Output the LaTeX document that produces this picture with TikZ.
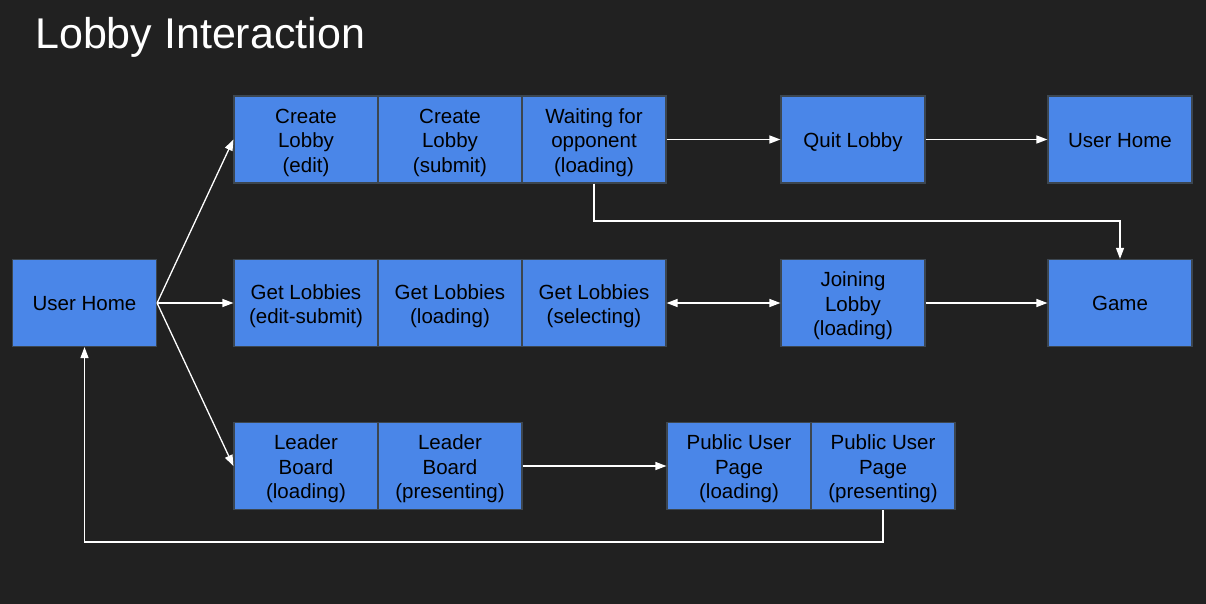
\documentclass[tikz,border=0pt]{standalone}
\usepackage{fontspec}
\setmainfont{Liberation Sans}
\usetikzlibrary{arrows.meta}
\definecolor{bg}{HTML}{212121}
\definecolor{boxfill}{HTML}{4A86E8}
\definecolor{boxline}{HTML}{3C4650}
\newcommand\boxtxt[2][3.5pt]{\raisebox{-#1}[\height][\depth]{\begin{tabular}{@{}c@{}}#2\end{tabular}}}
\tikzset{
  stbox/.style={rectangle, fill=boxfill, draw=boxline, line width=1.2pt,
    minimum width=144pt, minimum height=87pt, inner sep=0pt,
    font=\fontsize{20.5}{24.5}\selectfont, text=black},
  conn/.style={draw=white, line width=1.3pt, -{Triangle[length=11pt,width=8pt]}},
  conn2/.style={draw=white, line width=1.3pt, {Triangle[length=11pt,width=8pt]}-{Triangle[length=11pt,width=8pt]}}
}
\begin{document}
\begin{tikzpicture}[x=1pt,y=-1pt]
\fill[bg] (0,0) rectangle (1206,604);
\useasboundingbox (0,0) rectangle (1206,604);
\node[anchor=base west, text=white, font=\fontsize{43}{50}\selectfont, inner sep=0pt] (title) at (35,49) {Lobby Interaction};
% row 1
\node[stbox] (cle) at (306,139.5) {\boxtxt{Create\\Lobby\\(edit)}};
\node[stbox] (cls) at (450,139.5) {\boxtxt{Create\\Lobby\\(submit)}};
\node[stbox] (wait) at (594,139.5) {\boxtxt{Waiting for\\opponent\\(loading)}};
\node[stbox] (quit) at (853,139.5) {\boxtxt[3pt]{Quit Lobby}};
\node[stbox] (uh2) at (1120,139.5) {\boxtxt[3pt]{User Home}};
% row 2
\node[stbox] (uh) at (84.5,303) {\boxtxt[2.5pt]{User Home}};
\node[stbox] (gle) at (306,303) {\boxtxt{Get Lobbies\\(edit-submit)}};
\node[stbox] (gll) at (450,303) {\boxtxt{Get Lobbies\\(loading)}};
\node[stbox] (gls) at (594,303) {\boxtxt{Get Lobbies\\(selecting)}};
\node[stbox] (join) at (853,303) {\boxtxt{Joining\\Lobby\\(loading)}};
\node[stbox] (game) at (1120,303) {\boxtxt[2.5pt]{Game}};
% row 3
\node[stbox] (lbl) at (306,466) {\boxtxt{Leader\\Board\\(loading)}};
\node[stbox] (lbp) at (450,466) {\boxtxt{Leader\\Board\\(presenting)}};
\node[stbox] (pul) at (739,466) {\boxtxt{Public User\\Page\\(loading)}};
\node[stbox] (pup) at (883,466) {\boxtxt{Public User\\Page\\(presenting)}};
% connectors
\draw[conn] (uh.east) -- (cle.west);
\draw[conn] (uh.east) -- (gle.west);
\draw[conn] (uh.east) -- (lbl.west);
\draw[conn] (wait.east) -- (quit.west);
\draw[conn] (quit.east) -- (uh2.west);
\coordinate (c1) at (594,221);
\draw[conn] (wait.south) -- (c1) -| (game.north);
\draw[conn2] (gls.east) -- (join.west);
\draw[conn] (join.east) -- (game.west);
\draw[conn] (lbp.east) -- (pul.west);
\coordinate (c2) at (883,542);
\draw[conn] (pup.south) -- (c2) -| (uh.south);
\end{tikzpicture}
\end{document}
